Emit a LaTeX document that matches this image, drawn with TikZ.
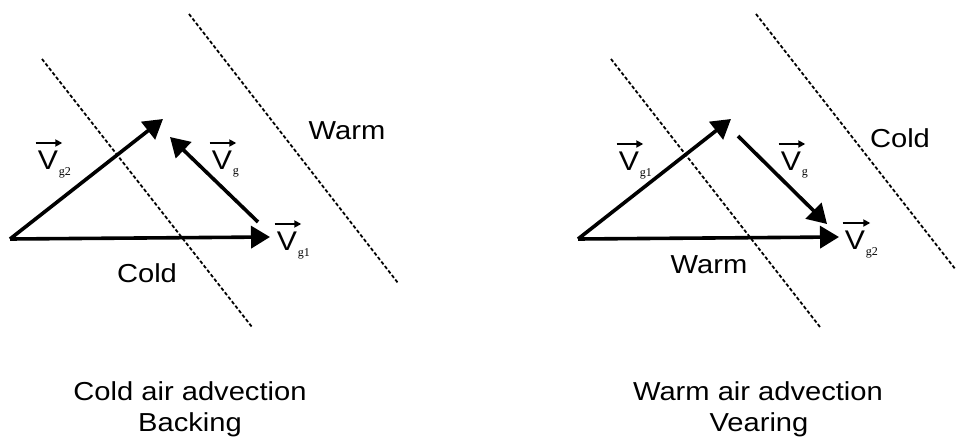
\documentclass[tikz,border=0pt]{standalone}
\usepackage{fontspec}
\setmainfont{Liberation Sans}[FakeStretch=1.12]
\newfontfamily\subfont{Liberation Serif}
\usetikzlibrary{arrows.meta}
\tikzset{
  vec/.style={line width=3.6pt,-{Triangle[length=19pt,width=22pt]}},
  front/.style={line width=1.8pt,dash pattern=on 3.5pt off 2.2pt},
  lbl/.style={font=\fontsize{26}{30}\selectfont,inner sep=0pt,anchor=base},
  vlet/.style={font=\fontsize{27}{30}\selectfont,inner sep=0pt},
  sublet/.style={font=\subfont\fontsize{12}{12}\selectfont,inner sep=0pt},
  oarrow/.style={line width=2.2pt,-{Triangle[length=7pt,width=7pt]}}
}
\newcommand{\vecnode}[4]{%
  \node[vlet] (#1) at (#2) {V};
  \node[sublet,anchor=west] (#1s) at ([xshift=0.5pt,yshift=-13pt]#1.east) {#3};
  \coordinate (#1a) at ([xshift=-2pt,yshift=17pt]#1.center -| #1.west);
  \coordinate (#1b) at ([xshift=#4,yshift=17pt]#1.center -| #1.east);
  \draw[oarrow] (#1a) -- (#1b);
}
\begin{document}
\begin{tikzpicture}[x=1pt,y=-1pt]
\path[use as bounding box] (0,0) rectangle (956,439);
% ---------- left panel ----------
\coordinate (f1a) at (42,59);  \coordinate (f1b) at (252,327);
\coordinate (f2a) at (189,14); \coordinate (f2b) at (398,283);
\draw[front] (f1a) -- (f1b);
\draw[front] (f2a) -- (f2b);
\coordinate (O1) at (10,239);
\coordinate (A1) at (270,237);
\coordinate (B1) at (163,119);
\coordinate (C1s) at (258,222);
\coordinate (C1e) at (170,137);
\draw[vec] (O1) -- (A1);
\draw[vec] (O1) -- (B1);
\draw[vec] (C1s) -- (C1e);
\vecnode{lvg2}{48,160}{g2}{4pt}
\vecnode{lvg}{222,160}{g}{4pt}
\vecnode{lvg1}{287,241}{g1}{4pt}
\node[lbl] (lwarm) at (347,139) {Warm};
\node[lbl] (lcold) at (147,282) {Cold};
\node[lbl] (lt1) at (190,400) {Cold air advection};
\node[lbl] (lt2) at (190,431) {Backing};
% ---------- right panel ----------
\coordinate (g1a) at (611,59);  \coordinate (g1b) at (820,327);
\coordinate (g2a) at (756,14);  \coordinate (g2b) at (956,270);
\draw[front] (g1a) -- (g1b);
\draw[front] (g2a) -- (g2b);
\coordinate (O2) at (578,239);
\coordinate (A2) at (839,237);
\coordinate (B2) at (731,119);
\coordinate (C2s) at (738,136);
\coordinate (C2e) at (827,224);
\draw[vec] (O2) -- (A2);
\draw[vec] (O2) -- (B2);
\draw[vec] (C2s) -- (C2e);
\vecnode{rvg1}{629,161}{g1}{4pt}
\vecnode{rvg}{791,161}{g}{4pt}
\vecnode{rvg2}{855,240}{g2}{5pt}
\node[lbl] (rcold) at (900,147) {Cold};
\node[lbl] (rwarm) at (709,273) {Warm};
\node[lbl] (rt1) at (758,400) {Warm air advection};
\node[lbl] (rt2) at (759,431) {Vearing};
\end{tikzpicture}
\end{document}
